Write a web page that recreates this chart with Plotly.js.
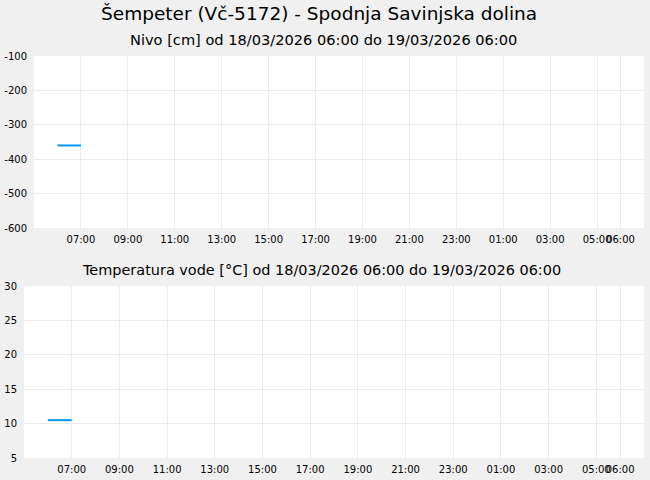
<!DOCTYPE html>
<html><head><meta charset="utf-8">
<script src="https://cdn.plot.ly/plotly-3.0.1.min.js"></script>
<style>body{margin:0;padding:0;background:#f0f0f0}#c{width:650px;height:480px}</style>
</head><body><div id="c"></div>
<script>
const times = ["2026-03-18 06:00", "2026-03-18 07:00"];
const nivo = [-360, -360];
const temperatura = [10.5, 10.5];
const tickTimes = ["2026-03-18 07:00","2026-03-18 09:00","2026-03-18 11:00","2026-03-18 13:00","2026-03-18 15:00","2026-03-18 17:00","2026-03-18 19:00","2026-03-18 21:00","2026-03-18 23:00","2026-03-19 01:00","2026-03-19 03:00","2026-03-19 05:00","2026-03-19 06:00"];
const tickLabels = ["07:00","09:00","11:00","13:00","15:00","17:00","19:00","21:00","23:00","01:00","03:00","05:00","06:00"];
const xRange = ["2026-03-18 05:00", "2026-03-19 07:00"];
const nivoRange = [-600, -100];
const nivoTicks = [-600, -500, -400, -300, -200, -100];
const nivoTickLabels = ["-600", "-500", "-400", "-300", "-200", "-100"];
const tempRange = [5, 30];
const tempTicks = [5, 10, 15, 20, 25, 30];
const tempTickLabels = ["5", "10", "15", "20", "25", "30"];
const mainTitle = "Šempeter (Vč-5172) - Spodnja Savinjska dolina";
const sub1 = "Nivo [cm] od 18/03/2026 06:00 do 19/03/2026 06:00";
const sub2 = "Temperatura vode [°C] od 18/03/2026 06:00 do 19/03/2026 06:00";

const F = "DejaVu Sans, Verdana, sans-serif";
const lineStyle = {color: "#0a96f0", width: 2};
const traces = [
  {x: times, y: nivo, type: "scatter", mode: "lines", line: lineStyle, xaxis: "x", yaxis: "y", hoverinfo: "skip"},
  {x: times, y: temperatura, type: "scatter", mode: "lines", line: lineStyle, xaxis: "x2", yaxis: "y2", hoverinfo: "skip"}
];
const H = 480, T = 56, B = 22, PH = H - T - B;
const fy = py => (H - B - py) / PH;
const fx = px => px / 650;
const xa = dom => ({
  type: "date", range: xRange, domain: dom, tickmode: "array", tickvals: tickTimes, ticktext: tickLabels,
  tickangle: 0, showgrid: true, gridcolor: "#ececec", gridwidth: 1, zeroline: false, showline: false,
  ticks: "outside", ticklen: 2, tickcolor: "rgba(0,0,0,0)",
  tickfont: {family: F, size: 10, color: "#000"}, fixedrange: true
});
const ya = (rng, dom, anchor, tv, tt) => ({
  range: rng, domain: dom, anchor: anchor, tickmode: "array", tickvals: tv, ticktext: tt,
  showgrid: true, gridcolor: "#ececec", gridwidth: 1, zeroline: false, showline: false,
  ticks: "outside", ticklen: 4, tickcolor: "rgba(0,0,0,0)",
  tickfont: {family: F, size: 10, color: "#000"}, fixedrange: true
});
const layout = {
  width: 650, height: 480,
  paper_bgcolor: "#f0f0f0", plot_bgcolor: "#ffffff",
  margin: {l: 0, r: 0, t: T, b: B, pad: 0},
  showlegend: false,
  xaxis: Object.assign(xa([34/650, 644/650]), {anchor: "y"}),
  yaxis: ya(nivoRange, [fy(228), 1], "x", nivoTicks, nivoTickLabels),
  xaxis2: Object.assign(xa([24/650, 644/650]), {anchor: "y2"}),
  yaxis2: ya(tempRange, [0, fy(286)], "x2", tempTicks, tempTickLabels),
  annotations: [
    {text: mainTitle, xref: "paper", yref: "paper", x: fx(318.5), y: fy(14), xanchor: "center", yanchor: "middle", showarrow: false, font: {family: F, size: 18.5, color: "#000"}},
    {text: sub1, xref: "paper", yref: "paper", x: fx(323.5), y: fy(40), xanchor: "center", yanchor: "middle", showarrow: false, font: {family: F, size: 14.6, color: "#000"}},
    {text: sub2, xref: "paper", yref: "paper", x: fx(321), y: fy(270), xanchor: "center", yanchor: "middle", showarrow: false, font: {family: F, size: 14.45, color: "#000"}}
  ]
};
Plotly.newPlot("c", traces, layout, {displayModeBar: false, staticPlot: true});
</script>
</body></html>
